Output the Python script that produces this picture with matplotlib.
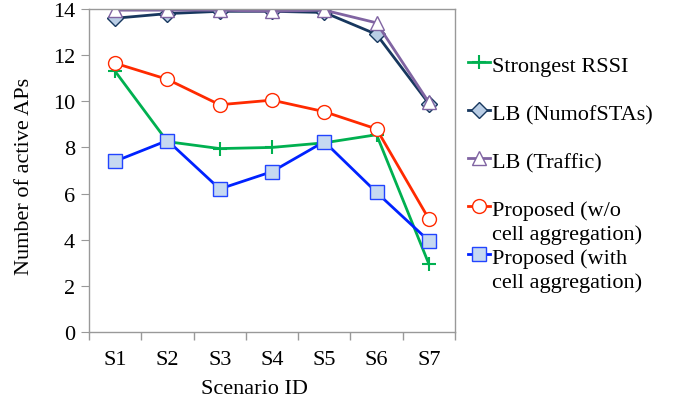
import matplotlib
matplotlib.use("Agg")
import matplotlib.pyplot as plt
from matplotlib.lines import Line2D
import numpy as np

scenarios = ["S1", "S2", "S3", "S4", "S5", "S6", "S7"]
strongest_rssi = [11.3, 8.25, 7.95, 8.0, 8.2, 8.55, 2.95]
lb_numofstas = [13.6, 13.8, 13.9, 13.9, 13.85, 12.9, 9.9]
lb_traffic = [13.95, 13.95, 13.95, 13.9, 13.95, 13.4, 9.95]
proposed_wo = [11.65, 10.95, 9.85, 10.05, 9.55, 8.8, 4.9]
proposed_with = [7.4, 8.3, 6.2, 6.95, 8.25, 6.05, 3.95]

series = [
    ("Strongest RSSI", strongest_rssi,
     dict(color="#00B050", marker="+", ms=10, mew=1.5)),
    ("LB (NumofSTAs)", lb_numofstas,
     dict(color="#17375E", marker="D", ms=8, mfc="#B9CDE5", mec="#17375E")),
    ("LB (Traffic)", lb_traffic,
     dict(color="#8064A2", marker="^", ms=10, mfc="white", mec="#8064A2")),
    ("Proposed (w/o\ncell aggregation)", proposed_wo,
     dict(color="#FF2A00", marker="o", ms=10, mfc="white", mec="#FF2A00")),
    ("Proposed (with\ncell aggregation)", proposed_with,
     dict(color="#0022FF", marker="s", ms=10, mfc="#C6D9F1", mec="#2244FF")),
]

plt.rcParams["font.family"] = ["Liberation Serif", "DejaVu Serif"]
W, H = 676, 406

fig = plt.figure(figsize=(W / 100, H / 100), dpi=100)
ax = fig.add_axes([89 / W, 1 - 333 / H, 366 / W, 323 / H])

x = np.arange(len(scenarios))
for label, vals, st in series:
    ax.plot(x, vals, lw=2, label=label, **st)

ax.set_xlim(-0.5, len(scenarios) - 0.5)
ax.set_ylim(0, 14)
ax.set_yticks(np.arange(0, 15, 2))
ax.set_xticks(x)
ax.set_xticklabels(scenarios)
ax.set_xticks(np.arange(-0.5, len(scenarios)), minor=True)
ax.tick_params(axis="x", which="major", length=0, labelsize=16, pad=13)
ax.tick_params(axis="x", which="minor", length=6, color="#999999", width=1)
ax.tick_params(axis="y", length=6, color="#999999", labelsize=16, pad=4)
for s in ax.spines.values():
    s.set_color("#999999")
    s.set_linewidth(1)

ax.set_xlabel("Scenario ID", fontsize=16)
ax.xaxis.set_label_coords((254 - 89) / 366, -(390 - 333) / 323)
ax.xaxis.label.set_va("center")
ax.set_ylabel("Number of active APs", fontsize=16)
ax.yaxis.set_label_coords((25 - 89) / 366, 0.486)
ax.yaxis.label.set_va("center")

# legend drawn by hand, Excel style (handle aligned with first text line)
for i, (label, vals, st) in enumerate(series):
    ypx = 63 + 48 * i
    yf = 1 - ypx / H
    fig.add_artist(Line2D([468 / W, 490 / W], [yf, yf], lw=2,
                          color=st["color"], transform=fig.transFigure))
    mk = {k: v for k, v in st.items() if k != "color"}
    fig.add_artist(Line2D([479 / W], [yf], lw=0, color=st["color"],
                          transform=fig.transFigure, **mk))
    for j, line in enumerate(label.split("\n")):
        yb = 1 - (ypx + 9 + 24 * j) / H
        fig.text(492 / W, yb, line, fontsize=16, va="baseline", ha="left")

fig.savefig("out.png", dpi=100)
